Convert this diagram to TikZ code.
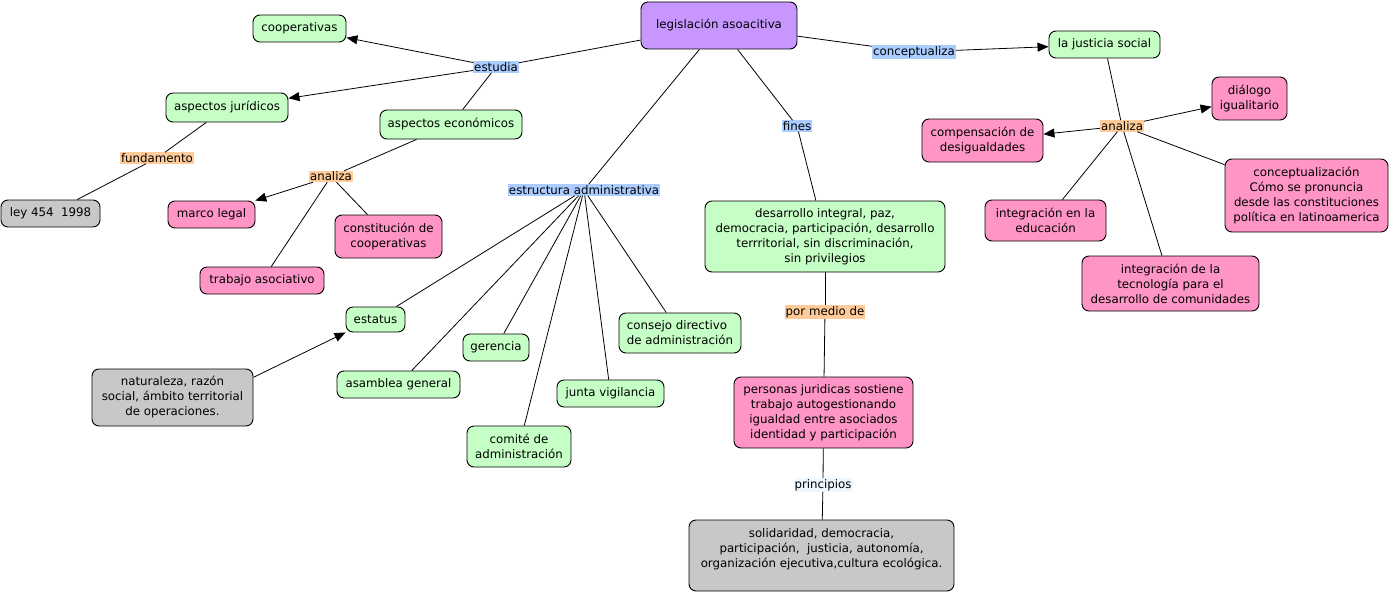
\documentclass[tikz,border=0pt]{standalone}
\usepackage{fontspec}
\setmainfont{DejaVu Sans}
\usetikzlibrary{arrows.meta}
\definecolor{cgreen}{RGB}{198,255,198}
\definecolor{cpink}{RGB}{255,149,199}
\definecolor{cgrey}{RGB}{200,200,200}
\definecolor{cpurple}{RGB}{199,151,255}
\definecolor{lblue}{RGB}{170,204,255}
\definecolor{lorange}{RGB}{255,204,153}
\definecolor{lwhite}{RGB}{240,248,255}
\tikzset{
  box/.style={draw=black, line width=0.9pt, rounded corners=7pt, align=center, inner sep=1pt, font=\fontsize{11.8}{15}\selectfont},
  gbox/.style={box, fill=cgreen},
  pbox/.style={box, fill=cpink},
  ybox/.style={box, fill=cgrey},
  lbl/.style={fill=#1, inner xsep=1pt, inner ysep=1pt, font=\fontsize{11.8}{14}\selectfont},
  conn/.style={draw=black, line width=0.8pt},
  arr/.style={conn, -{Triangle[length=11pt,width=9pt]}},
}
\begin{document}
\begin{tikzpicture}[x=1pt,y=-1pt]
\useasboundingbox (0,0) rectangle (1390,594);
% concepts
\node[box, fill=cpurple, minimum width=156, minimum height=47] (leg) at (719,25.5) {legislación asoacitiva};
\node[gbox, minimum width=93, minimum height=27] (coop) at (299.5,28.5) {cooperativas};
\node[gbox, minimum width=122, minimum height=29] (jur) at (227,107.5) {aspectos jurídicos};
\node[gbox, minimum width=142, minimum height=29] (eco) at (451,124.5) {aspectos económicos};
\node[ybox, minimum width=99, minimum height=27] (ley) at (50.5,213.5) {ley 454\ \ 1998};
\node[pbox, minimum width=87, minimum height=27] (marco) at (211.5,214.5) {marco legal};
\node[pbox, minimum width=107, minimum height=43] (const) at (388.5,236.5) {constitución de\\cooperativas};
\node[pbox, minimum width=124, minimum height=27] (trab) at (262,280.5) {trabajo asociativo};
\node[gbox, minimum width=59, minimum height=25] (estat) at (375.5,319.5) {estatus};
\node[ybox, minimum width=161, minimum height=57] (nat) at (172.5,397.5) {naturaleza, razón\\social, ámbito territorial\\de operaciones.};
\node[gbox, minimum width=123, minimum height=27] (asam) at (398.5,384.5) {asamblea general};
\node[gbox, minimum width=66, minimum height=27] (ger) at (496,347.5) {gerencia};
\node[gbox, minimum width=104, minimum height=41] (comi) at (519,446.5) {comité de\\administración};
\node[gbox, minimum width=107, minimum height=27] (junta) at (610.5,393.5) {junta vigilancia};
\node[gbox, minimum width=122, minimum height=40, align=left] (cons) at (680,333) {consejo directivo\\de administración};
\node[gbox, minimum width=240, minimum height=71] (des) at (825,236.5) {desarrollo integral, paz,\\democracia, participación, desarrollo\\terrritorial, sin discriminación,\\sin privilegios};
\node[pbox, minimum width=179, minimum height=71] (pers) at (823.5,412.5) {personas juridicas sostiene\\trabajo autogestionando\\igualdad entre asociados\\identidad y participación};
\node[ybox, minimum width=265, minimum height=71] (sol) at (821.5,555.5) {solidaridad, democracia,\\participación,\ \ justicia, autonomía,\\organización ejecutiva,cultura ecológica.\\\mbox{}};
\node[gbox, minimum width=111, minimum height=27] (just) at (1104.5,44.5) {la justicia social};
\node[pbox, minimum width=75, minimum height=43] (dial) at (1249.5,98.5) {diálogo\\igualitario};
\node[pbox, minimum width=121, minimum height=43] (comp) at (982.5,140.5) {compensación de\\desigualdades};
\node[pbox, minimum width=163, minimum height=73] (concz) at (1306.5,195.5) {conceptualización\\Cómo se pronuncia\\desde las constituciones\\política en latinoamerica};
\node[pbox, minimum width=121, minimum height=41] (educ) at (1045.5,220.5) {integración en la\\educación};
\node[pbox, minimum width=177, minimum height=55] (tecn) at (1170.5,283.5) {integración de la\\tecnología para el\\desarrollo de comunidades};
% linking phrases
\node[lbl=lblue] (estudia) at (496,67) {estudia};
\node[lbl=lorange] (fund) at (157,158) {fundamento};
\node[lbl=lorange] (anaL) at (331,176.5) {analiza};
\node[lbl=lblue] (estr) at (584,190) {estructura administrativa};
\node[lbl=lblue] (fines) at (797,126) {fines};
\node[lbl=lblue] (concp) at (914,52) {conceptualiza};
\node[lbl=lorange] (anaR) at (1122,126) {analiza};
\node[lbl=lorange] (pmed) at (825,312) {por medio de};
\node[lbl=lwhite] (princ) at (823,485) {principios};
% connectors
\draw[conn] (leg) -- (estudia);
\draw[arr] (estudia) -- (coop);
\draw[arr] (estudia) -- (jur);
\draw[conn] (estudia) -- (eco);
\draw[conn] (jur) -- (fund);
\draw[conn] (fund) -- (ley);
\draw[conn] (eco) -- (anaL);
\draw[arr] (anaL) -- (marco);
\draw[conn] (anaL) -- (const);
\draw[conn] (anaL) -- (trab);
\draw[conn] (leg) -- (estr);
\draw[conn] (estr) -- (estat);
\draw[conn] (estr) -- (asam);
\draw[conn] (estr) -- (ger);
\draw[conn] (estr) -- (comi);
\draw[conn] (estr) -- (junta);
\draw[conn] (estr) -- (cons);
\draw[arr] (nat.14) -- (estat.south west);
\draw[conn] (leg) -- (fines);
\draw[conn] (fines) -- (des);
\draw[conn] (des) -- (pmed);
\draw[conn] (pmed) -- (pers);
\draw[conn] (pers) -- (princ);
\draw[conn] (princ) -- (sol);
\draw[conn] (leg) -- (concp);
\draw[arr] (concp) -- (just);
\draw[conn] (just) -- (anaR);
\draw[arr] (anaR) -- (dial);
\draw[arr] (anaR) -- (comp);
\draw[conn] (anaR) -- (concz);
\draw[conn] (anaR) -- (educ);
\draw[conn] (anaR) -- (tecn);
\end{tikzpicture}
\end{document}
